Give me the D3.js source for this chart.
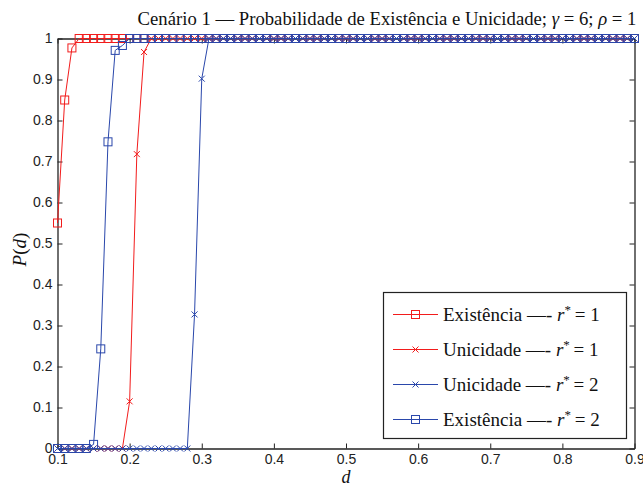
<!DOCTYPE html>
<html>
<head>
<meta charset="utf-8">
<script src="https://cdn.jsdelivr.net/npm/d3@7"></script>
<style>
  html, body { margin: 0; padding: 0; background: #fff; }
  svg { display: block; }
  .tick text { font-family: "Liberation Sans", Arial, sans-serif; font-size: 14px; fill: #222; }
</style>
</head>
<body>
<svg id="chart" width="643" height="489"></svg>
<script>
// Grid of d values (0.10 … 0.90, step 0.01)
const dValues = d3.range(81).map(i => +(0.1 + i * 0.01).toFixed(2));

// P(d) for each curve, one value per d
const existR1 = [
  0.55, 0.85, 0.977, 1, 1, 1, 1, 1, 1, 1,
  1, 1, 1, 1, 1, 1, 1, 1, 1, 1,
  1, 1, 1, 1, 1, 1, 1, 1, 1, 1,
  1, 1, 1, 1, 1, 1, 1, 1, 1, 1,
  1, 1, 1, 1, 1, 1, 1, 1, 1, 1,
  1, 1, 1, 1, 1, 1, 1, 1, 1, 1,
  1, 1, 1, 1, 1, 1, 1, 1, 1, 1,
  1, 1, 1, 1, 1, 1, 1, 1, 1, 1,
  1
];
const unicR1 = [
  0, 0, 0, 0, 0, 0, 0, 0, 0, 0,
  0.115, 0.718, 0.967, 1, 1, 1, 1, 1, 1, 1,
  1, 1, 1, 1, 1, 1, 1, 1, 1, 1,
  1, 1, 1, 1, 1, 1, 1, 1, 1, 1,
  1, 1, 1, 1, 1, 1, 1, 1, 1, 1,
  1, 1, 1, 1, 1, 1, 1, 1, 1, 1,
  1, 1, 1, 1, 1, 1, 1, 1, 1, 1,
  1, 1, 1, 1, 1, 1, 1, 1, 1, 1,
  1
];
const unicR2 = [
  0, 0, 0, 0, 0, 0, 0, 0, 0, 0,
  0, 0, 0, 0, 0, 0, 0, 0, 0, 0.327,
  0.902, 1, 1, 1, 1, 1, 1, 1, 1, 1,
  1, 1, 1, 1, 1, 1, 1, 1, 1, 1,
  1, 1, 1, 1, 1, 1, 1, 1, 1, 1,
  1, 1, 1, 1, 1, 1, 1, 1, 1, 1,
  1, 1, 1, 1, 1, 1, 1, 1, 1, 1,
  1, 1, 1, 1, 1, 1, 1, 1, 1, 1,
  1
];
const existR2 = [
  0, 0, 0, 0, 0, 0.01, 0.243, 0.748, 0.971, 0.983,
  1, 1, 1, 1, 1, 1, 1, 1, 1, 1,
  1, 1, 1, 1, 1, 1, 1, 1, 1, 1,
  1, 1, 1, 1, 1, 1, 1, 1, 1, 1,
  1, 1, 1, 1, 1, 1, 1, 1, 1, 1,
  1, 1, 1, 1, 1, 1, 1, 1, 1, 1,
  1, 1, 1, 1, 1, 1, 1, 1, 1, 1,
  1, 1, 1, 1, 1, 1, 1, 1, 1, 1,
  1
];

const xTicks = [0.1, 0.2, 0.3, 0.4, 0.5, 0.6, 0.7, 0.8, 0.9];
const yTicks = [0, 0.1, 0.2, 0.3, 0.4, 0.5, 0.6, 0.7, 0.8, 0.9, 1];

const RED = "#f21c1c";
const BLUE = "#2a47ab";

// Legend order; drawn in this order too
const series = [
  { name: "Existência", r: 1, values: existR1, color: RED, marker: "square" },
  { name: "Unicidade",  r: 1, values: unicR1,  color: RED, marker: "cross" },
  { name: "Unicidade",  r: 2, values: unicR2,  color: BLUE, marker: "cross" },
  { name: "Existência", r: 2, values: existR2, color: BLUE, marker: "square" }
];

const svg = d3.select("#chart");
const plot = { left: 57.5, right: 634.5, top: 38.5, bottom: 448.5 };

const x = d3.scaleLinear().domain([0.1, 0.9]).range([plot.left, plot.right]);
const y = d3.scaleLinear().domain([0, 1]).range([plot.bottom, plot.top]);

const AXIS = "#222";

// Axes with inward ticks on all four sides
const axBottom = svg.append("g").attr("transform", `translate(0,${plot.bottom})`)
  .call(d3.axisBottom(x).tickValues(xTicks).tickFormat(d3.format(".1f")).tickSizeInner(-5).tickSizeOuter(0).tickPadding(6));
const axTop = svg.append("g").attr("transform", `translate(0,${plot.top})`)
  .call(d3.axisTop(x).tickValues(xTicks).tickFormat("").tickSizeInner(-5).tickSizeOuter(0));
const axLeft = svg.append("g").attr("transform", `translate(${plot.left},0)`)
  .call(d3.axisLeft(y).tickValues(yTicks).tickFormat(d => d === 0 || d === 1 ? d3.format("d")(d) : d3.format(".1f")(d)).tickSizeInner(-5).tickSizeOuter(0).tickPadding(5));
const axRight = svg.append("g").attr("transform", `translate(${plot.right},0)`)
  .call(d3.axisRight(y).tickValues(yTicks).tickFormat("").tickSizeInner(-5).tickSizeOuter(0));

[axBottom, axTop, axLeft, axRight].forEach(g => {
  g.selectAll(".domain").attr("stroke", AXIS).attr("stroke-width", 1.3);
  g.selectAll(".tick line").attr("stroke", AXIS).attr("stroke-width", 1);
});

// Curves
const line = d3.line().x((d, i) => x(dValues[i])).y(d => y(d));

function drawMarker(g, type, color, size) {
  if (type === "square") {
    g.append("rect")
      .attr("x", -size / 2).attr("y", -size / 2)
      .attr("width", size).attr("height", size)
      .attr("fill", "none").attr("stroke", color).attr("stroke-width", 1);
  } else {
    const h = size / 2;
    g.append("path")
      .attr("d", `M${-h},${-h}L${h},${h}M${-h},${h}L${h},${-h}`)
      .attr("fill", "none").attr("stroke", color).attr("stroke-width", 1);
  }
}

const curves = svg.append("g");
series.forEach(s => {
  const g = curves.append("g");
  g.append("path").datum(s.values)
    .attr("d", line)
    .attr("fill", "none").attr("stroke", s.color).attr("stroke-width", 1);
  g.selectAll("g.pt").data(s.values).enter().append("g")
    .attr("class", "pt")
    .attr("transform", (d, i) => `translate(${x(dValues[i])},${y(d)})`)
    .each(function () { drawMarker(d3.select(this), s.marker, s.color, s.marker === "square" ? 8 : 6); });
});

// Title
const title = svg.append("text")
  .attr("x", 387).attr("y", 25)
  .attr("text-anchor", "middle")
  .attr("font-family", "Liberation Serif, Times New Roman, serif")
  .attr("font-size", 18.7).attr("fill", "#111");
title.append("tspan").text("Cenário 1 — Probabilidade de Existência e Unicidade; ");
title.append("tspan").attr("font-style", "italic").text("γ");
title.append("tspan").text(" = 6; ");
title.append("tspan").attr("font-style", "italic").text("ρ");
title.append("tspan").text(" = 1");

// Axis labels
svg.append("text")
  .attr("x", (plot.left + plot.right) / 2).attr("y", 483)
  .attr("text-anchor", "middle")
  .attr("font-family", "Liberation Serif, Times New Roman, serif")
  .attr("font-size", 18).attr("font-style", "italic").attr("fill", "#111")
  .text("d");

const yl = svg.append("text")
  .attr("transform", `translate(26,${(plot.top + plot.bottom) / 2 + 6}) rotate(-90)`)
  .attr("text-anchor", "middle")
  .attr("font-family", "Liberation Serif, Times New Roman, serif")
  .attr("font-size", 19).attr("fill", "#111");
yl.append("tspan").attr("font-style", "italic").text("P");
yl.append("tspan").text("(");
yl.append("tspan").attr("font-style", "italic").text("d");
yl.append("tspan").text(")");

// Legend
const legend = svg.append("g");
legend.append("rect")
  .attr("x", 383.5).attr("y", 292.5).attr("width", 243).attr("height", 146)
  .attr("fill", "#fff").attr("stroke", AXIS).attr("stroke-width", 1.2);

series.forEach((s, i) => {
  const cy = 314.5 + i * 35;
  const row = legend.append("g");
  row.append("line").attr("x1", 393).attr("x2", 438).attr("y1", cy).attr("y2", cy)
    .attr("stroke", s.color).attr("stroke-width", 1);
  const m = row.append("g").attr("transform", `translate(415.5,${cy})`);
  drawMarker(m, s.marker, s.color, s.marker === "square" ? 8 : 6);
  const t = row.append("text")
    .attr("x", 443).attr("y", cy + 6)
    .attr("font-family", "Liberation Serif, Times New Roman, serif")
    .attr("font-size", 19).attr("fill", "#111");
  t.append("tspan").text(s.name + " —- ");
  t.append("tspan").attr("font-style", "italic").text("r");
  t.append("tspan").attr("font-size", 13).attr("dy", -7).text("*");
  t.append("tspan").attr("dy", 7).text("\u2009= " + s.r);
});
</script>
</body>
</html>
